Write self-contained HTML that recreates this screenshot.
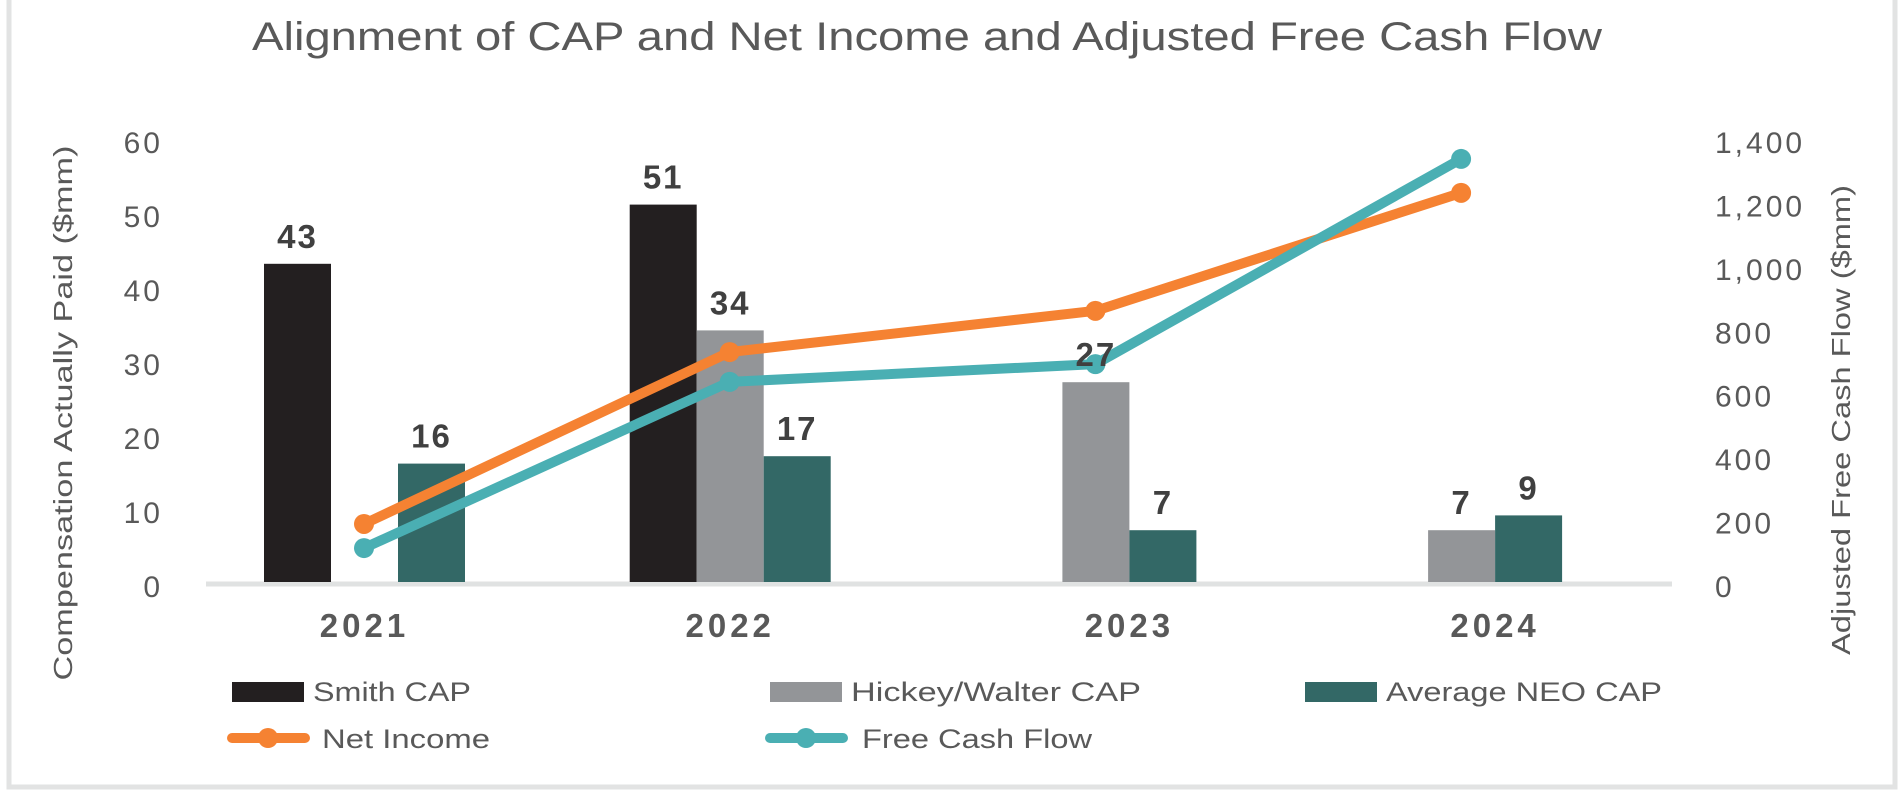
<!DOCTYPE html>
<html><head><meta charset="utf-8"><style>
html,body{margin:0;padding:0;background:#fff;}
svg{display:block;font-family:"Liberation Sans",sans-serif;}
</style></head><body>
<svg id="chart" width="1904" height="794" viewBox="0 0 1904 794">
<rect x="9" y="-5" width="1886" height="792" fill="none" stroke="#e2e3e3" stroke-width="5"/>
<text x="927" y="50" text-anchor="middle" font-size="40" fill="#595959" textLength="1350" lengthAdjust="spacingAndGlyphs">Alignment of CAP and Net Income and Adjusted Free Cash Flow</text>
<g id="axes"></g><g id="bars"></g><g id="lines"></g><g id="labels"></g>
<text transform="translate(72,413) rotate(-90)" text-anchor="middle" font-size="26" fill="#595959" textLength="535" lengthAdjust="spacingAndGlyphs">Compensation Actually Paid ($mm)</text>
<text transform="translate(1850,420) rotate(-90)" text-anchor="middle" font-size="26" fill="#595959" textLength="470" lengthAdjust="spacingAndGlyphs">Adjusted Free Cash Flow ($mm)</text>
<g>
<rect x="232" y="682" width="72" height="20" fill="#231f20"/>
<text x="313" y="701" font-size="27" fill="#595959" textLength="158" lengthAdjust="spacingAndGlyphs">Smith CAP</text>
<rect x="770" y="682" width="72" height="20" fill="#939598"/>
<text x="851" y="701" font-size="27" fill="#595959" textLength="290" lengthAdjust="spacingAndGlyphs">Hickey/Walter CAP</text>
<rect x="1305" y="682" width="72" height="20" fill="#336866"/>
<text x="1386" y="701" font-size="27" fill="#595959" textLength="276" lengthAdjust="spacingAndGlyphs">Average NEO CAP</text>
<line x1="232" y1="738" x2="305" y2="738" stroke="#f58232" stroke-width="10" stroke-linecap="round"/>
<circle cx="268" cy="738" r="10" fill="#f58232"/>
<text x="322" y="748" font-size="27" fill="#595959" textLength="168" lengthAdjust="spacingAndGlyphs">Net Income</text>
<line x1="770" y1="738" x2="843" y2="738" stroke="#4aafb3" stroke-width="10" stroke-linecap="round"/>
<circle cx="806" cy="738" r="10" fill="#4aafb3"/>
<text x="862" y="748" font-size="27" fill="#595959" textLength="230" lengthAdjust="spacingAndGlyphs">Free Cash Flow</text>
</g>
</svg>
<script>
const categories = ["2021","2022","2023","2024"];
const smithCap = [43, 51, 0, 0];
const hickeyCap = [0, 34, 27, 7];
const neoCap = [16, 17, 7, 9];
const netIncome = [183, 725, 855, 1227];
const freeCashFlow = [107, 631, 687, 1334];
const leftTicks = [0,10,20,30,40,50,60];
const rightTicks = [0,200,400,600,800,1000,1200,1400];
const rightTickLabels = ["0","200","400","600","800","1,000","1,200","1,400"];

const NS = "http://www.w3.org/2000/svg";
const basePx = 582, yTopPx = 138;
const yL = v => basePx - v * (basePx - yTopPx) / 60;
const yR = v => basePx - v * (basePx - yTopPx) / 1400;
const xC = i => 364 + i * 365.7;
const BW = 67;
function mk(tag, attrs, parent, text) {
  const e = document.createElementNS(NS, tag);
  for (const k in attrs) e.setAttribute(k, attrs[k]);
  if (text !== undefined) e.textContent = text;
  document.getElementById(parent).appendChild(e);
  return e;
}
let el = mk("line", {x1:206, y1:basePx+2, x2:1672, y2:basePx+2, stroke:"#e0e2e2", "stroke-width":5}, "axes");


leftTicks.forEach(v => {
  const t = mk("text", {x:163, y:yL(v)+15, "text-anchor":"end", "font-size":30, fill:"#595959", "letter-spacing":"3"}, "axes", String(v));
  
  
});
rightTicks.forEach((v,i) => {
  const t = mk("text", {x:1715, y:yR(v)+15, "font-size":30, fill:"#595959", "letter-spacing":"3"}, "axes", rightTickLabels[i]);
  
  
});
const series = [[smithCap,"#231f20",-100,"bar-smith"],[hickeyCap,"#939598",-33,"bar-hickey"],[neoCap,"#336866",34,"bar-neo"]];
categories.forEach((c,i) => {
  let xs = [];
  series.forEach(([arr,col,off,nm]) => {
    const v = arr[i];
    if (!v) return;
    const x = xC(i) + off;
    xs.push(x);
    const r = mk("rect", {x:x, y:yL(v), width:BW, height:basePx-yL(v), fill:col}, "bars");
    
    
    const t = mk("text", {x:x+BW/2, y:yL(v)-16, "text-anchor":"middle", "font-size":33, "font-weight":"bold", fill:"#404040", "letter-spacing":"2"}, "labels", String(v));
    
    
  });
  const cx = (Math.min(...xs) + Math.max(...xs) + BW) / 2;
  const t = mk("text", {x:cx, y:637, "text-anchor":"middle", "font-size":33, "font-weight":"bold", fill:"#595959", "letter-spacing":"4"}, "labels", c);
  
  
});
[[netIncome,"#f58232","net-income"],[freeCashFlow,"#4aafb3","free-cash-flow"]].forEach(([arr,col,nm]) => {
  const pts = arr.map((v,i) => xC(i) + "," + yR(v)).join(" ");
  const p = mk("polyline", {points:pts, fill:"none", stroke:col, "stroke-width":10, "stroke-linejoin":"round"}, "lines");
  
  
  arr.forEach((v,i) => {
    const c = mk("circle", {cx:xC(i), cy:yR(v), r:10, fill:col}, "lines");
    
    
  });
});
</script>
</body></html>
